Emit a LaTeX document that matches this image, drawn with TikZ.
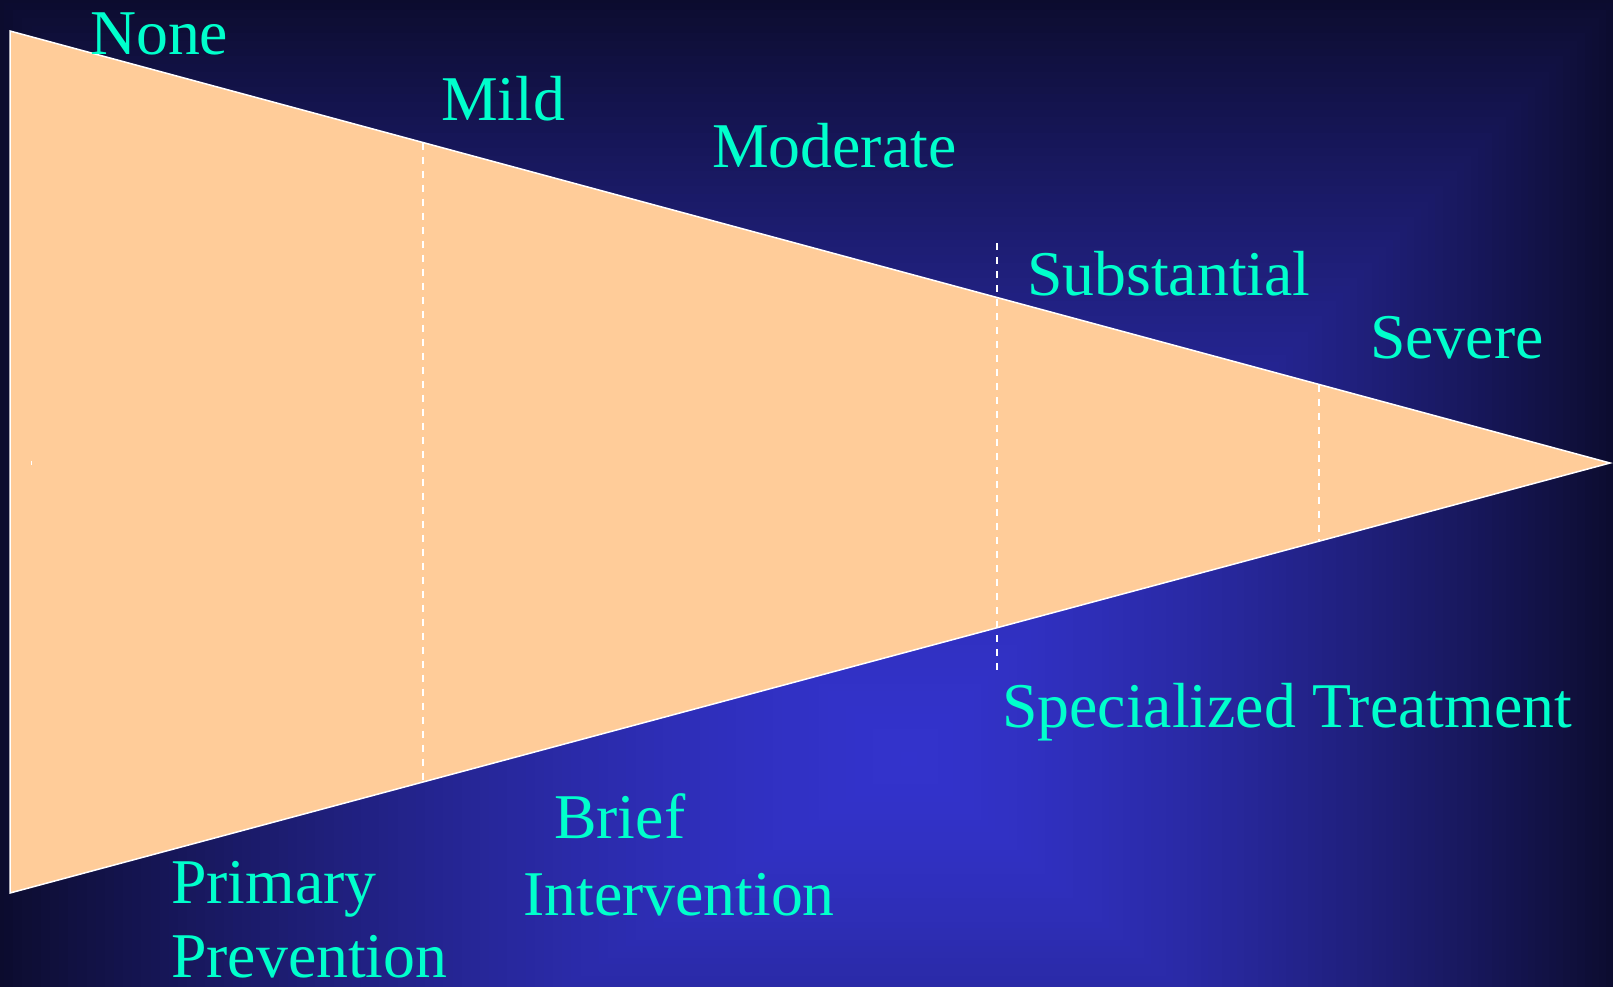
\documentclass[tikz,border=0pt]{standalone}
\usepackage{fontspec}
\setmainfont{Liberation Serif}
\definecolor{bgdark}{RGB}{12,12,46}
\definecolor{bgbright}{RGB}{51,51,204}
\definecolor{peach}{RGB}{255,204,153}
\definecolor{aqua}{RGB}{0,255,204}
\tikzset{
  lbl/.style={anchor=base west, inner sep=0pt, text=aqua, font=\fontsize{64}{72}\selectfont},
  edge/.style={draw=white, line width=1.5bp, line join=miter},
  divider/.style={draw=white, line width=1.5bp, dash pattern=on 7bp off 7bp},
}
\begin{document}
\begin{tikzpicture}[x=1bp,y=-1bp]
\useasboundingbox (0,0) rectangle (1613,986);
% background: rectangular path gradient
\foreach \i in {100,...,1}{
  \pgfmathsetmacro{\t}{\i/100}
  \pgfmathsetmacro{\p}{100*(1-\t^1.5)}
  \fill[bgbright!\p!bgdark] ({910-\t*915},{760-\t*765}) rectangle ({910+\t*710},{760+\t*600});
}
% funnel
\coordinate (tl) at (10,31);
\coordinate (bl) at (10,893);
\coordinate (tip) at (1610,463);
\fill[peach] (tl) -- (tip) -- (bl) -- cycle;
\draw[edge] (tl) -- (tip) -- (bl) -- cycle;
% dividers
\coordinate (d1t) at (423,142.5);
\coordinate (d1b) at (423,782);
\coordinate (d2t) at (997,243);
\coordinate (d2b) at (997,670);
\coordinate (d3t) at (1319,384.5);
\coordinate (d3b) at (1319,541.5);
\draw[divider] (d1t) -- (d1b);
\draw[divider] (d2t) -- (d2b);
\draw[divider] (d3t) -- (d3b);
\coordinate (m1) at (31,461);
\coordinate (m2) at (31,464.5);
\draw[white, line width=1bp] (m1) -- (m2);
% labels
\node[lbl] (none) at (90,54) {None};
\node[lbl] (mild) at (441,120) {Mild};
\node[lbl] (moderate) at (712,167) {Moderate};
\node[lbl] (substantial) at (1027,295) {Substantial};
\node[lbl] (severe) at (1370,358) {Severe};
\node[lbl] (specialized) at (1002,727) {Specialized Treatment};
\node[lbl] (brief) at (554,838) {Brief};
\node[lbl] (intervention) at (523,915) {Intervention};
\node[lbl] (primary) at (171,903) {Primary};
\node[lbl] (prevention) at (171,977) {Prevention};
\end{tikzpicture}
\end{document}
